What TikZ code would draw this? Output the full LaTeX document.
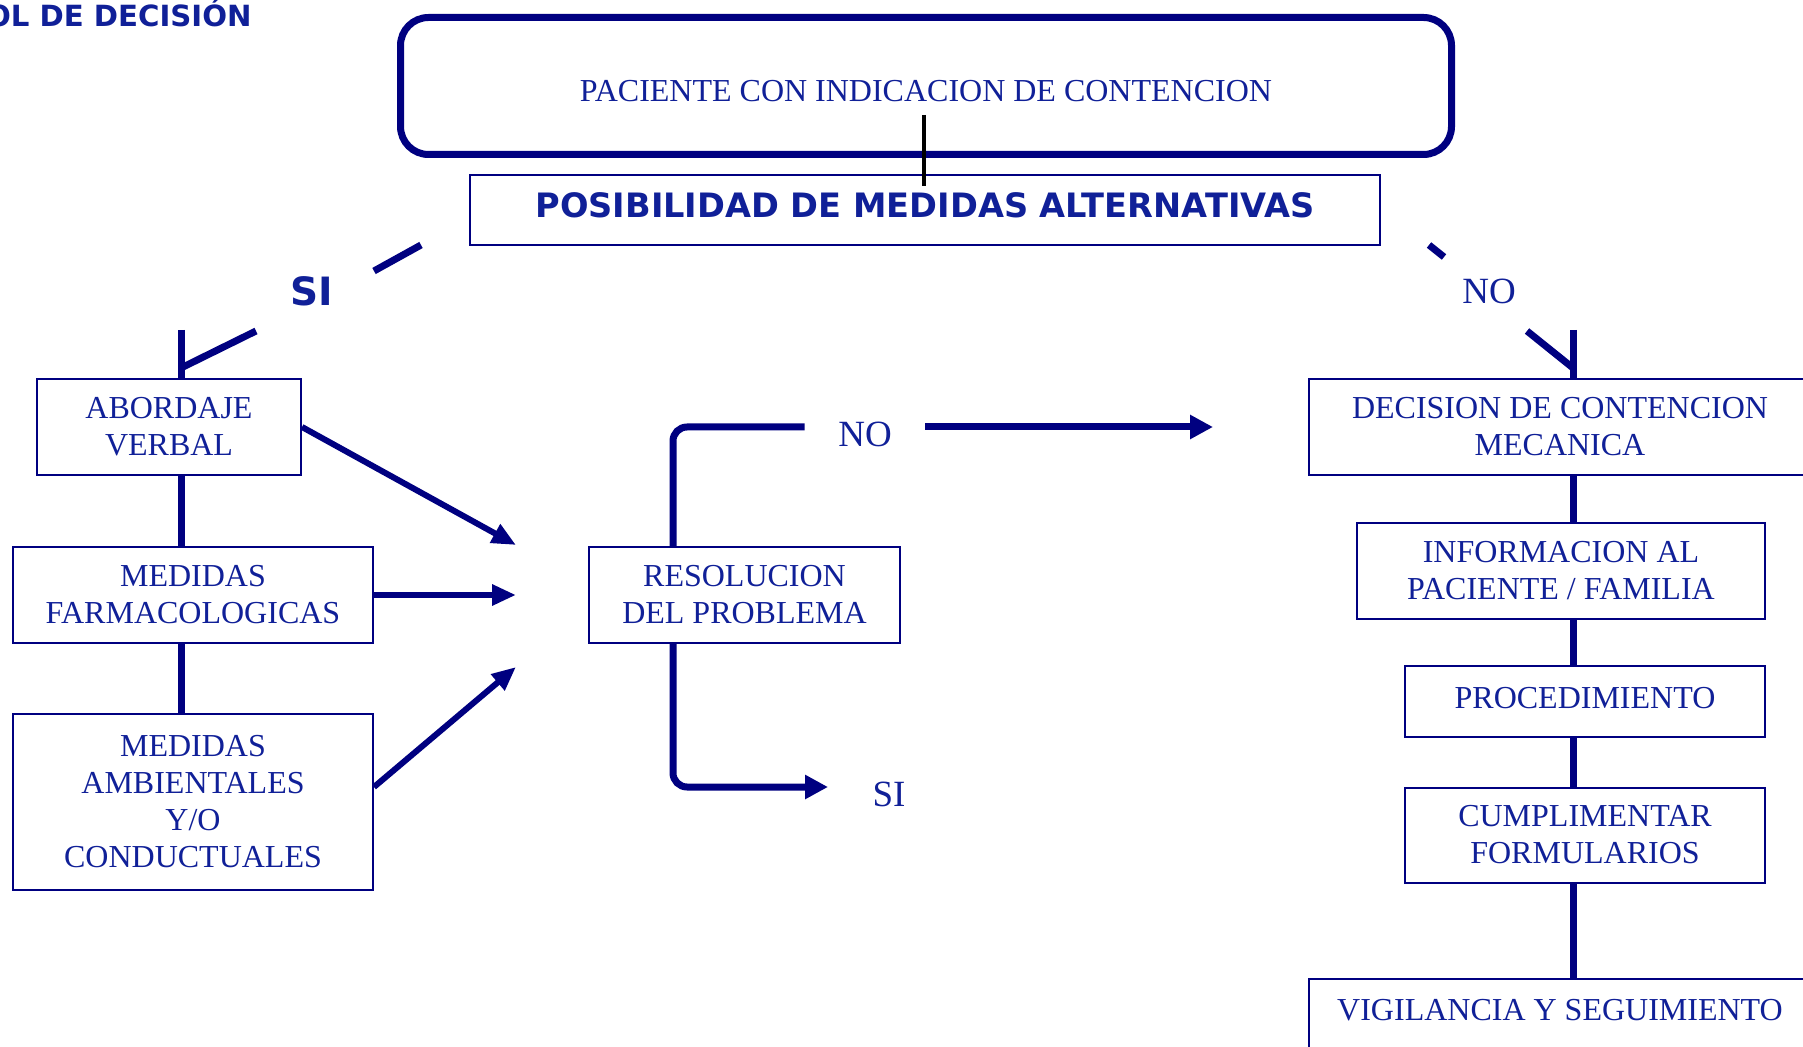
\documentclass[tikz,border=0pt]{standalone}
\usepackage{fontspec}
\setmainfont{Liberation Serif}
\newfontfamily\verdana{DejaVu Sans}
\usetikzlibrary{arrows.meta}
\definecolor{azulLinea}{RGB}{0,0,128}
\definecolor{azulTexto}{RGB}{16,32,152}
\tikzset{
    caja/.style ={
        rectangle,
        draw=azulLinea,
        line width=1pt,
        fill=white,
        inner sep=0pt,
        align=center,
        text=azulTexto,
        font=\fontsize{16}{18.5}\selectfont
    },
    tronco/.style ={draw=azulLinea, line width=3.5pt},
    flecha/.style ={draw=azulLinea, line width=3pt, -{Triangle[length=12pt,width=10pt]}},
    etiq/.style ={text=azulTexto, inner sep=0pt, font=\fontsize{18.5}{20}\selectfont}
}

\begin{document}
\begin{tikzpicture}[x=0.5pt,y=-0.5pt]
        \useasboundingbox (0,0) rectangle (1803,1047);
        \clip (0,0) rectangle (1803,1047);

        \node[anchor=base east, inner sep=0pt, text=azulTexto, font=\verdana\bfseries\fontsize{14.6}{16}\selectfont] (TITULO) at (252,27) {ÁRBOL DE DECISIÓN};

        \node[caja, rounded corners=14pt, line width=3.5pt, minimum width=525.5pt, minimum height=68.5pt, text height=15.6pt] (PACIENTE) at (926,86) {PACIENTE CON INDICACION DE CONTENCION};
        \node[caja, minimum width=455pt, minimum height=35pt, text depth=5pt, font=\verdana\bfseries\fontsize{16.8}{18}\selectfont] (POSIB) at (925,210.5) {POSIBILIDAD DE MEDIDAS ALTERNATIVAS};
        \coordinate (NEGRO1) at (924,115);
        \coordinate (NEGRO2) at (924,186);
        \draw[black, line width=2pt] (NEGRO1)--(NEGRO2);

        % rama SI
        \node[caja, minimum width=132pt, minimum height=48pt] (ABORDAJE) at (169,427) {ABORDAJE\\VERBAL};
        \node[caja, minimum width=180pt, minimum height=48pt] (FARMACO) at (193,595) {MEDIDAS\\FARMACOLOGICAS};
        \node[caja, minimum width=180pt, minimum height=88pt] (AMBIENT) at (193,802) {MEDIDAS\\AMBIENTALES\\Y/O\\CONDUCTUALES};
        \node[caja, minimum width=155.5pt, minimum height=48pt] (RESOL) at (744.5,595) {RESOLUCION\\DEL PROBLEMA};

        % rama NO
        \node[caja, minimum width=251pt, minimum height=48pt] (DECISION) at (1560,427) {DECISION DE CONTENCION\\MECANICA};
        \node[caja, minimum width=204pt, minimum height=48pt] (INFO) at (1561,571) {INFORMACION AL\\PACIENTE / FAMILIA};
        \node[caja, minimum width=180pt, minimum height=35.5pt, text depth=3.5pt] (PROC) at (1585,701.5) {PROCEDIMIENTO};
        \node[caja, minimum width=180pt, minimum height=47.5pt] (CUMPL) at (1585,835) {CUMPLIMENTAR\\FORMULARIOS};
        \node[caja, anchor=north, minimum width=251pt, inner ysep=10pt, text depth=40pt] (VIGIL) at (1560,978) {VIGILANCIA Y SEGUIMIENTO};

        \coordinate (SIPIE) at (181,330);
        \draw[tronco] (SIPIE)--(SIPIE |- ABORDAJE.north);
        \draw[tronco] (SIPIE |- ABORDAJE.south)--(SIPIE |- FARMACO.north);
        \draw[tronco] (SIPIE |- FARMACO.south)--(SIPIE |- AMBIENT.north);

        \coordinate (NOPIE) at (1573,330);
        \draw[tronco] (NOPIE)--(NOPIE |- DECISION.north);
        \draw[tronco] (NOPIE |- DECISION.south)--(NOPIE |- INFO.north);
        \draw[tronco] (NOPIE |- INFO.south)--(NOPIE |- PROC.north);
        \draw[tronco] (NOPIE |- PROC.south)--(NOPIE |- CUMPL.north);
        \draw[tronco] (NOPIE |- CUMPL.south)--(NOPIE |- VIGIL.north);

        % diagonales
        \coordinate (SIA) at (421,245);
        \coordinate (SIB) at (374,271);
        \coordinate (SIC) at (256,331);
        \coordinate (SID) at (181,368);
        \draw[tronco] (SIA)--(SIB);
        \draw[tronco] (SIC)--(SID);
        \node[text=azulTexto, inner sep=0pt, font=\verdana\bfseries\fontsize{19.5}{21}\selectfont] (SI) at (312,291) {SI};

        \coordinate (NOA) at (1429,245);
        \coordinate (NOB) at (1444,257);
        \coordinate (NOC) at (1527,331);
        \coordinate (NOD) at (1573,368);
        \draw[tronco] (NOA)--(NOB);
        \draw[tronco] (NOC)--(NOD);
        \node[etiq] (NO) at (1489,291) {NO};

        % flechas hacia la resolucion
        \coordinate (META1) at (516,545);
        \coordinate (META2) at (516,595);
        \coordinate (META3) at (516,667);
        \draw[flecha] (ABORDAJE.east)--(META1);
        \draw[flecha] (FARMACO.east)--(META2);
        \draw[flecha] ([yshift=7.5pt]AMBIENT.east)--(META3);

        % salida de la resolucion
        \coordinate (EJE) at (673,427);
        \coordinate (METANO) at (1213,427);
        \coordinate (SIFIN) at (828,787);
        \node[etiq, minimum width=60pt] (NORES) at (865,434) {NO};
        \node[etiq] (SIRES) at (889,794) {SI};
        \draw[tronco, rounded corners=7pt] (NORES.west |- EJE)--(EJE)--(RESOL.north -| EJE);
        \draw[flecha, line width=3.5pt, -{Triangle[length=11.5pt,width=11.5pt]}] (NORES.east |- EJE)--(METANO);
        \draw[flecha, line width=3.5pt, -{Triangle[length=11.5pt,width=11.5pt]}, rounded corners=7pt] (RESOL.south -| EJE) |- (SIFIN);
    \end{tikzpicture}
\end{document}
